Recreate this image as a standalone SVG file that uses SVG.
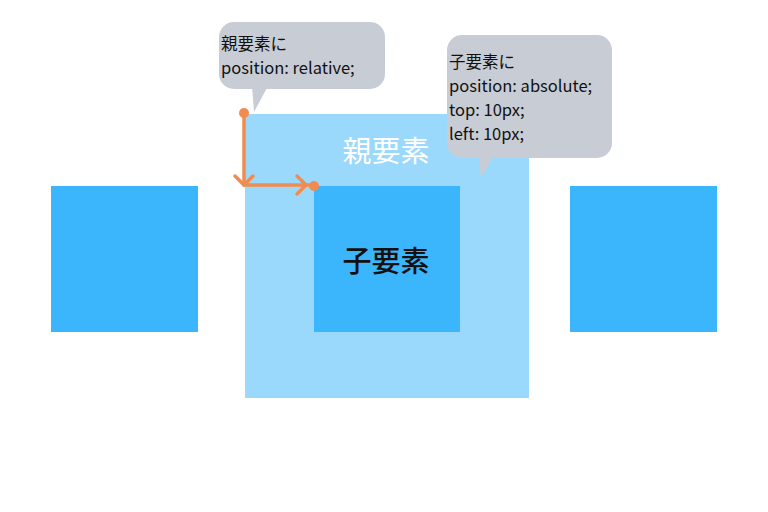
<svg xmlns="http://www.w3.org/2000/svg" width="768" height="512" viewBox="0 0 768 512">
<style>
.box{fill:#3bb5fc}
.bubble{fill:#c8ccd4}
.btxt{font-family:"Noto Sans CJK JP","Noto Sans",sans-serif;font-size:16.5px;font-weight:400;fill:#111}
.big{font-family:"Noto Sans CJK JP","Noto Sans",sans-serif;font-size:29px;text-anchor:middle}
.ar{stroke:#f28c4e;stroke-width:3.5;fill:none;stroke-linecap:round;stroke-linejoin:round}
.dot{fill:#f28c4e}
</style>
<rect width="768" height="512" fill="#ffffff"/>
<g id="left-box"><rect class="box" x="51" y="186" width="147" height="146"/></g>
<g id="right-box"><rect class="box" x="570" y="186" width="147" height="146"/></g>
<g id="parent">
<rect x="245" y="114" width="284" height="284" fill="#9bd9fc"/>
<text class="big" x="386" y="162" fill="#ffffff">親要素</text>
</g>
<g id="child">
<rect class="box" x="314" y="186" width="146" height="146"/>
<text class="big" x="386" y="272" fill="#111111" font-weight="500">子要素</text>
</g>
<g id="bubble-parent">
<rect class="bubble" x="219" y="22" width="166" height="67" rx="15"/>
<path class="bubble" d="M252 86 L268 86 L254 112 Z"/>
<text class="btxt" x="221" y="50">親要素に</text>
<text class="btxt" x="221" y="74">position: relative;</text>
</g>
<g id="bubble-child">
<rect class="bubble" x="447" y="35" width="165" height="123" rx="15"/>
<path class="bubble" d="M479 155 L494 155 L481 178 Z"/>
<text class="btxt" x="449" y="68">子要素に</text>
<text class="btxt" x="449" y="92">position: absolute;</text>
<text class="btxt" x="449" y="116">top: 10px;</text>
<text class="btxt" x="449" y="140">left: 10px;</text>
</g>
<g id="connectors">
<path class="ar" d="M244 113 L244 185 L313 185"/>
<path class="ar" d="M235 176 L244 185 L253 176"/>
<path class="ar" d="M297 176 L306 185 L297 194"/>
<circle class="dot" cx="244" cy="113" r="5"/>
<circle class="dot" cx="314" cy="186" r="5"/>
</g>
</svg>
